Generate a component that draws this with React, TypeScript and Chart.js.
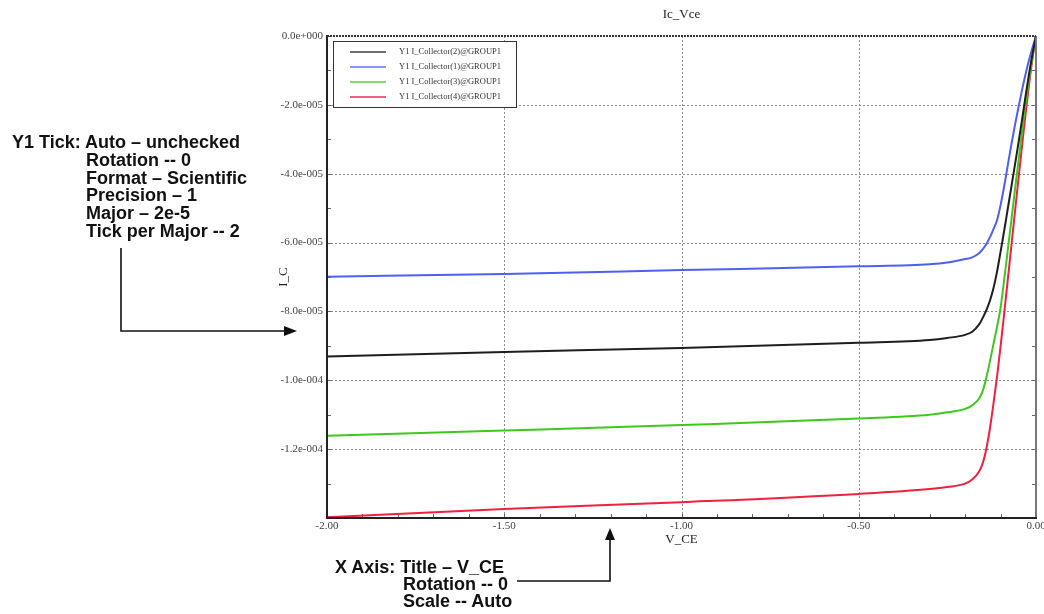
import React, { useEffect, useRef } from "react";
import { Chart, registerables } from "chart.js";

Chart.register(...registerables);

// V_CE sample points (V)
const vce = [
  -2.0, -1.5, -1.0, -0.5, -0.3, -0.25, -0.2, -0.18, -0.16, -0.15, -0.14, -0.13,
  -0.12, -0.11, -0.1, -0.09, -0.08, -0.07, -0.06, -0.05, -0.04, -0.03, -0.02, -0.01, 0,
];
// I_C values, in units of 1e-5 A
const icCollector2 = [
  -9.31, -9.18, -9.06, -8.91, -8.83, -8.77, -8.68, -8.59, -8.37, -8.18, -7.96, -7.69,
  -7.33, -6.85, -6.27, -5.67, -5.04, -4.41, -3.78, -3.14, -2.48, -1.78, -1.12, -0.53, 0,
];
const icCollector1 = [
  -6.99, -6.91, -6.8, -6.69, -6.63, -6.58, -6.48, -6.43, -6.3, -6.19, -6.04, -5.85,
  -5.61, -5.35, -4.92, -4.38, -3.78, -3.18, -2.62, -2.1, -1.6, -1.13, -0.71, -0.34, 0,
];
const icCollector3 = [
  -11.61, -11.46, -11.3, -11.11, -11.0, -10.93, -10.83, -10.73, -10.52, -10.3, -9.92, -9.45,
  -8.95, -8.45, -7.9, -7.1, -6.25, -5.4, -4.52, -3.68, -2.84, -2.02, -1.28, -0.6, 0,
];
const icCollector4 = [
  -13.98, -13.74, -13.54, -13.3, -13.16, -13.1, -13.0, -12.88, -12.64, -12.4, -11.98, -11.4,
  -10.68, -9.9, -9.02, -8.08, -7.12, -6.15, -5.17, -4.2, -3.25, -2.32, -1.45, -0.66, 0,
];

const seriesLabels = [
  "Y1 I_Collector(2)@GROUP1",
  "Y1 I_Collector(1)@GROUP1",
  "Y1 I_Collector(3)@GROUP1",
  "Y1 I_Collector(4)@GROUP1",
];
const seriesValues = [icCollector2, icCollector1, icCollector3, icCollector4];
const seriesColors = ["#1e1e1e", "#4f5ff2", "#3ec81e", "#f0213f"];
const legendColors = ["#6e6e6e", "#8a96f4", "#80df60", "#f26086"];

const xTickLabels = ["-2.00", "-1.50", "-1.00", "-0.50", "0.00"];
const yTickLabels = [
  "0.0e+000",
  "-2.0e-005",
  "-4.0e-005",
  "-6.0e-005",
  "-8.0e-005",
  "-1.0e-004",
  "-1.2e-004",
];

const leftNotes = [
  { text: "Y1 Tick: Auto \u2013 unchecked", x: 12, y: 142 },
  { text: "Rotation -- 0", x: 86, y: 159.8 },
  { text: "Format \u2013 Scientific", x: 86, y: 177.6 },
  { text: "Precision \u2013 1", x: 86, y: 195.4 },
  { text: "Major \u2013 2e-5", x: 86, y: 213.2 },
  { text: "Tick per Major -- 2", x: 86, y: 231 },
];
const bottomNotes = [
  { text: "X Axis: Title \u2013 V_CE", x: 335, y: 567 },
  { text: "Rotation -- 0", x: 403, y: 584 },
  { text: "Scale -- Auto", x: 403, y: 601 },
];

const SERIF = '"Liberation Serif", "Times New Roman", serif';
const SANS = '"Liberation Sans", Arial, sans-serif';

const isMultiple = (v: number, step: number) =>
  Math.abs(v / step - Math.round(v / step)) < 1e-6;

const framePlugin = {
  id: "frame",
  beforeDatasetsDraw(chart: any) {
    const { ctx, chartArea } = chart;
    const { left, right, top, bottom } = chartArea;
    const xs = chart.scales.x;
    const ys = chart.scales.y;
    ctx.save();
    // dotted major grid lines
    ctx.strokeStyle = "#8c8c8c";
    ctx.lineWidth = 1;
    ctx.setLineDash([2, 2]);
    ys.ticks.forEach((t: any) => {
      if (!isMultiple(t.value, 2)) return;
      const py = Math.round(ys.getPixelForValue(t.value)) + 0.5;
      if (py < top + 3 || py > bottom - 3) return;
      ctx.beginPath();
      ctx.moveTo(left, py);
      ctx.lineTo(right, py);
      ctx.stroke();
    });
    xs.ticks.forEach((t: any) => {
      if (!isMultiple(t.value, 0.5)) return;
      const px = Math.round(xs.getPixelForValue(t.value)) + 0.5;
      if (px < left + 3 || px > right - 3) return;
      ctx.beginPath();
      ctx.moveTo(px, top);
      ctx.lineTo(px, bottom);
      ctx.stroke();
    });
    ctx.setLineDash([]);
    // inner tick marks
    ctx.strokeStyle = "#666";
    ctx.lineWidth = 1;
    ys.ticks.forEach((t: any) => {
      const py = Math.round(ys.getPixelForValue(t.value)) + 0.5;
      ctx.beginPath();
      ctx.moveTo(left, py);
      ctx.lineTo(left + 4, py);
      ctx.moveTo(right - 4, py);
      ctx.lineTo(right, py);
      ctx.stroke();
    });
    xs.ticks.forEach((t: any) => {
      const px = Math.round(xs.getPixelForValue(t.value)) + 0.5;
      ctx.beginPath();
      ctx.moveTo(px, bottom);
      ctx.lineTo(px, bottom - 4);
      ctx.stroke();
    });
    ctx.restore();
  },
  afterDatasetsDraw(chart: any) {
    const { ctx, chartArea } = chart;
    const { left, right, top, bottom } = chartArea;
    ctx.save();
    // frame
    ctx.lineWidth = 2;
    ctx.strokeStyle = "#777";
    ctx.beginPath();
    ctx.moveTo(right, top);
    ctx.lineTo(right, bottom);
    ctx.stroke();
    ctx.strokeStyle = "#222";
    ctx.beginPath();
    ctx.moveTo(left, top - 1);
    ctx.lineTo(left, bottom);
    ctx.lineTo(right + 1, bottom);
    ctx.stroke();
    ctx.strokeStyle = "#333";
    ctx.setLineDash([2, 1]);
    ctx.beginPath();
    ctx.moveTo(left, top);
    ctx.lineTo(right, top);
    ctx.stroke();
    ctx.setLineDash([]);

    // legend box
    const bx = 333.5;
    const by = 41.5;
    const bw = 183;
    const bh = 66;
    ctx.fillStyle = "#fff";
    ctx.fillRect(bx, by, bw, bh);
    ctx.lineWidth = 1;
    ctx.strokeStyle = "#333";
    ctx.strokeRect(bx, by, bw, bh);
    ctx.font = `8.5px ${SERIF}`;
    ctx.textBaseline = "middle";
    ctx.textAlign = "left";
    seriesLabels.forEach((label, i) => {
      const ly = 52 + i * 15;
      ctx.strokeStyle = legendColors[i];
      ctx.lineWidth = 2;
      ctx.beginPath();
      ctx.moveTo(350, ly);
      ctx.lineTo(386, ly);
      ctx.stroke();
      ctx.fillStyle = "#333";
      ctx.fillText(label, 399, ly);
    });

    // chart title
    ctx.fillStyle = "#222";
    ctx.font = `13px ${SERIF}`;
    ctx.textAlign = "center";
    ctx.textBaseline = "middle";
    ctx.fillText("Ic_Vce", (left + right) / 2, 15);
    ctx.restore();
  },
};

export default function App() {
  const canvasRef = useRef<HTMLCanvasElement | null>(null);

  useEffect(() => {
    if (!canvasRef.current) return;
    const datasets = seriesValues.map((vals, i) => ({
      label: seriesLabels[i],
      data: vce.map((x, j) => ({ x, y: vals[j] })),
      borderColor: seriesColors[i],
      backgroundColor: seriesColors[i],
      borderWidth: 2,
      pointRadius: 0,
      fill: false,
      cubicInterpolationMode: "monotone" as const,
    }));
    const chart = new Chart(canvasRef.current, {
      type: "line",
      data: { datasets },
      options: {
        responsive: false,
        animation: false,
        devicePixelRatio: 1,
        layout: { padding: { left: 270, right: 8, top: 36, bottom: 56 } },
        plugins: {
          legend: { display: false },
          title: { display: false },
          tooltip: { enabled: false },
        },
        scales: {
          x: {
            type: "linear",
            min: -2,
            max: 0,
            grid: { display: false, drawTicks: false },
            border: { display: false },
            ticks: {
              stepSize: 0.1,
              autoSkip: false,
              maxRotation: 0,
              padding: 2,
              color: "#444",
              font: { family: SERIF, size: 11 },
              callback: (v: any) => {
                const n = Number(v);
                if (!isMultiple(n, 0.5)) return "";
                return xTickLabels[Math.round((n + 2) / 0.5)] ?? "";
              },
            },
            title: {
              display: true,
              text: "V_CE",
              color: "#222",
              font: { family: SERIF, size: 13 },
              padding: { top: 0, bottom: 11 },
            },
            afterFit: (s: any) => {
              s.height = 40;
              s.paddingLeft = 0;
              s.paddingRight = 0;
            },
          },
          y: {
            type: "linear",
            min: -14,
            max: 0,
            grid: { display: false, drawTicks: false },
            border: { display: false },
            ticks: {
              stepSize: 1,
              autoSkip: false,
              padding: 4,
              color: "#444",
              font: { family: SERIF, size: 11 },
              callback: (v: any) => {
                const n = Number(v);
                if (!isMultiple(n, 2)) return "";
                return yTickLabels[Math.round(-n / 2)] ?? "";
              },
            },
            title: {
              display: true,
              text: "I_C",
              color: "#222",
              font: { family: SERIF, size: 13 },
              padding: { top: 6, bottom: 0 },
            },
            afterFit: (s: any) => {
              s.width = 57;
              s.paddingTop = 0;
              s.paddingBottom = 0;
            },
          },
        },
      },
      plugins: [framePlugin],
    } as any);
    return () => chart.destroy();
  }, []);

  const noteStyle = (x: number, y: number): React.CSSProperties => ({
    position: "absolute",
    left: x,
    top: y - 9,
    height: 18,
    lineHeight: "18px",
    fontFamily: SANS,
    fontWeight: "bold",
    fontSize: 18,
    color: "#111",
    whiteSpace: "nowrap",
  });

  return (
    <div
      style={{
        position: "absolute",
        left: 0,
        top: 0,
        width: 1044,
        height: 614,
        background: "#fff",
        overflow: "hidden",
      }}
    >
      <canvas
        ref={canvasRef}
        width={1044}
        height={614}
        style={{ position: "absolute", left: 0, top: 0, width: 1044, height: 614 }}
      />
      <svg
        width={1044}
        height={614}
        style={{ position: "absolute", left: 0, top: 0, pointerEvents: "none" }}
      >
        <polyline
          points="121,248 121,331 286,331"
          fill="none"
          stroke="#111"
          strokeWidth={1.6}
        />
        <polygon points="297,331 284,326 284,336" fill="#111" />
        <polyline
          points="517,581 610,581 610,538"
          fill="none"
          stroke="#111"
          strokeWidth={1.6}
        />
        <polygon points="610,528 605,540 615,540" fill="#111" />
      </svg>
      {leftNotes.map((n, i) => (
        <div key={"l" + i} style={noteStyle(n.x, n.y)}>
          {n.text}
        </div>
      ))}
      {bottomNotes.map((n, i) => (
        <div key={"b" + i} style={noteStyle(n.x, n.y)}>
          {n.text}
        </div>
      ))}
    </div>
  );
}
